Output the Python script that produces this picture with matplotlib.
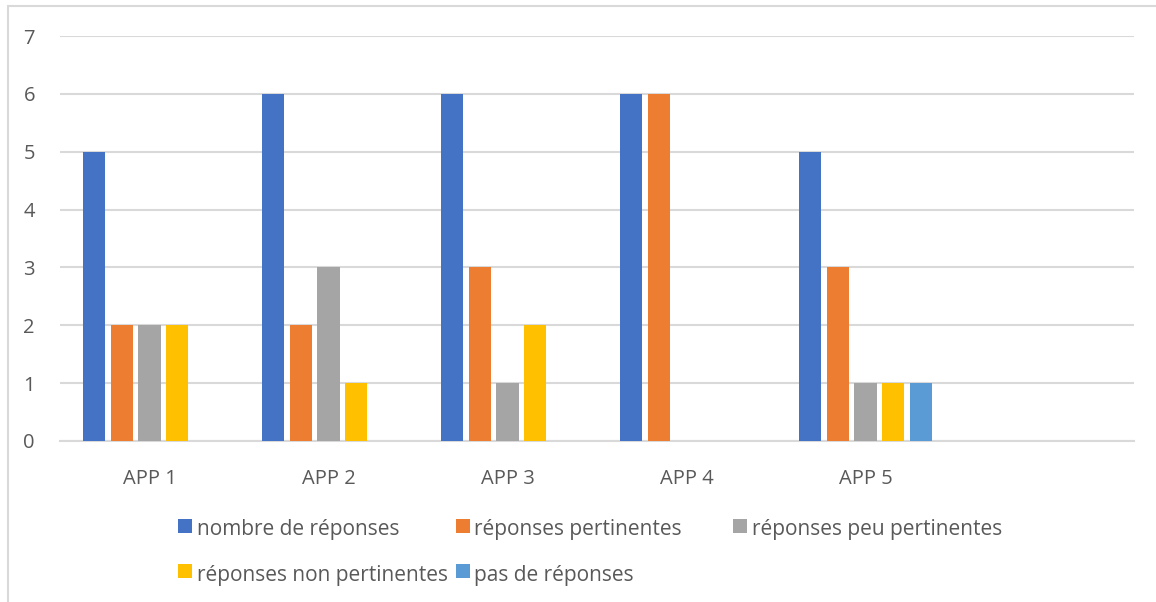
import matplotlib.pyplot as plt
import numpy as np
from matplotlib.patches import Rectangle

# Données par APP (la dernière catégorie est vide)
categories = ['APP 1', 'APP 2', 'APP 3', 'APP 4', 'APP 5', '']
nombre_reponses = [5, 6, 6, 6, 5, 0]
reponses_pertinentes = [2, 2, 3, 6, 3, 0]
reponses_peu_pertinentes = [2, 3, 1, 0, 1, 0]
reponses_non_pertinentes = [2, 1, 2, 0, 1, 0]
pas_de_reponses = [0, 0, 0, 0, 1, 0]

series = [
    ('nombre de réponses', nombre_reponses, '#4472C4'),
    ('réponses pertinentes', reponses_pertinentes, '#ED7D31'),
    ('réponses peu pertinentes', reponses_peu_pertinentes, '#A5A5A5'),
    ('réponses non pertinentes', reponses_non_pertinentes, '#FFC000'),
    ('pas de réponses', pas_de_reponses, '#5B9BD5'),
]

plt.rcParams['font.family'] = ['Open Sans', 'DejaVu Sans']
texte = '#595959'
grille = '#D9D9D9'

W, H = 1156, 602
fig = plt.figure(figsize=(W / 100, H / 100), dpi=100)
ax = fig.add_axes([60 / W, 1 - 441 / H, 1074 / W, 405 / H])

# cadre du graphique
fig.patches.append(Rectangle((8 / W, -0.2), 1.2, 1.2 - 6 / H,
                             transform=fig.transFigure, fill=False,
                             edgecolor=grille, linewidth=1.5))

x = np.arange(len(categories))
pas = 0.154
largeur = 0.123
for i, (nom, valeurs, couleur) in enumerate(series):
    ax.bar(x + (i - 2) * pas, valeurs, largeur, color=couleur, label=nom, zorder=3)

ax.set_xlim(-0.5, len(categories) - 0.5)
ax.set_ylim(0, 7)
ax.set_yticks(range(0, 8))
ax.set_xticks(x)
ax.set_xticklabels(categories)
ax.yaxis.grid(True, color=grille, linewidth=1.5, zorder=0)
ax.set_axisbelow(True)
for s in ['top', 'right', 'left']:
    ax.spines[s].set_visible(False)
ax.spines['bottom'].set_color(grille)
ax.spines['bottom'].set_linewidth(1.5)
ax.tick_params(axis='both', length=0, labelsize=14.5, labelcolor=texte)
ax.tick_params(axis='y', pad=18)
ax.tick_params(axis='x', pad=20)

# légende : colonnes de largeur égale, remplies ligne par ligne
for k, (nom, valeurs, couleur) in enumerate(series):
    col, ligne = k % 3, k // 3
    x0 = 178 + col * 277.5
    yc = 526 + ligne * 45
    fig.patches.append(Rectangle((x0 / W, 1 - (yc + 7) / H), 14 / W, 14 / H,
                                 transform=fig.transFigure, facecolor=couleur,
                                 edgecolor='none'))
    fig.text((x0 + 19) / W, 1 - (yc + 4) / H, nom, fontsize=15, color=texte,
             ha='left', va='center')

fig.savefig('out.png', dpi=100)
